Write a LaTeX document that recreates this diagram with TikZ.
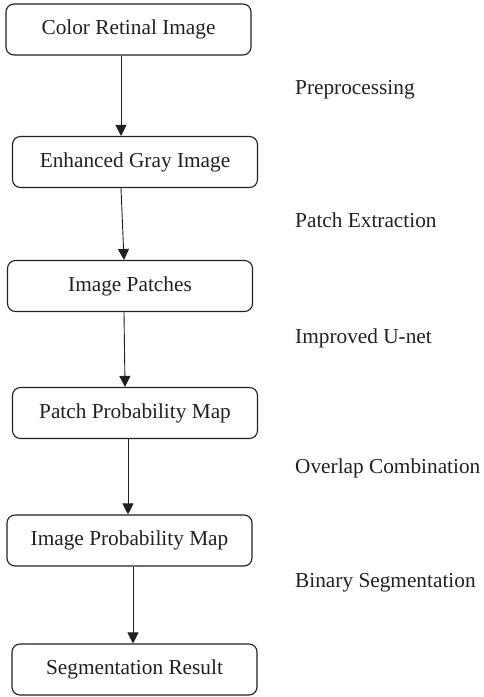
\documentclass[tikz,border=0pt]{standalone}
\usepackage{fontspec}
\setmainfont{Liberation Serif}
\usetikzlibrary{arrows.meta,positioning}

\definecolor{inkgray}{HTML}{231F20}

\begin{document}
\begin{tikzpicture}[x=1pt,y=-1pt,
    box/.style={draw=inkgray, line width=1.1pt, rounded corners=8pt, minimum width=245pt,
      minimum height=51pt, inner sep=0pt, text=inkgray, font=\fontsize{21.3}{24}\selectfont},
    step label/.style={anchor=west, inner sep=0pt, text=inkgray, font=\fontsize{21.3}{24}\selectfont},
    arr/.style={draw=inkgray, line width=0.9pt, -{Triangle[length=11pt,width=11pt]}}]
    \useasboundingbox (0,0) rectangle (483,697);

    \node[box] (color) at (128.5,29.5) {Color Retinal Image};
    \node[box] (gray) at (135,162) {Enhanced Gray Image};
    \node[box] (patches) at (130,286) {Image Patches};
    \node[box] (patchprob) at (135,413) {Patch Probability Map};
    \node[box] (imageprob) at (129.5,540.5) {Image Probability Map};
    \node[box] (result) at (134.5,669.5) {Segmentation Result};

    \node[step label] (pre) at (295,90) {Preprocessing};
    \node[step label] (extract) at (295,220) {Patch Extraction};
    \node[step label] (unet) at (295,338) {Improved U-net};
    \node[step label] (overlap) at (295,468) {Overlap Combination};
    \node[step label] (binary) at (295,583) {Binary Segmentation};

    \draw[arr] ([xshift=-7.5pt]color.south) -- ([xshift=-14pt]gray.north);
    \draw[arr] ([xshift=-14pt]gray.south) -- ([xshift=-6pt]patches.north);
    \draw[arr] ([xshift=-6pt]patches.south) -- ([xshift=-10pt]patchprob.north);
    \draw[arr] ([xshift=-7pt]patchprob.south) -- ([xshift=-1.5pt]imageprob.north);
    \draw[arr] ([xshift=3.5pt]imageprob.south) -- ([xshift=-1.5pt]result.north);
\end{tikzpicture}
\end{document}
